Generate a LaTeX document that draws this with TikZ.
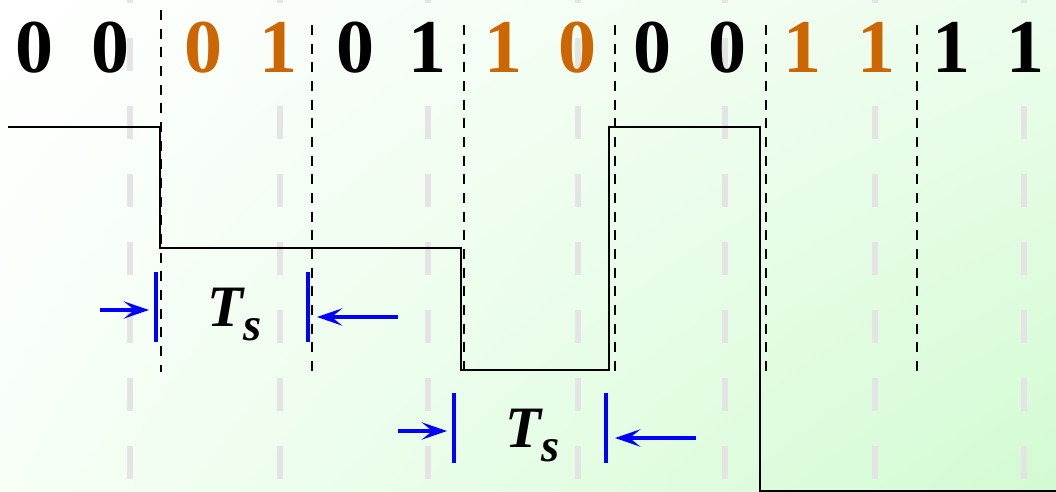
\documentclass[tikz,border=0pt]{standalone}
\usepackage{fontspec}
\setmainfont{Liberation Serif}
\usetikzlibrary{arrows.meta}
\usetikzlibrary{shadings}
\definecolor{bitorange}{RGB}{204,102,0}
\definecolor{tsblue}{RGB}{0,0,255}
\definecolor{gridgray}{RGB}{228,228,228}
\definecolor{bgcorner}{RGB}{210,251,210}
\definecolor{bgright}{RGB}{236,253,236}
\definecolor{bgleft}{RGB}{247,255,247}

\begin{document}
\begin{tikzpicture}[x=0.75pt,y=0.75pt,yscale=-1,xscale=1,
  bit/.style={anchor=base,inner sep=0pt,font=\fontsize{57}{60}\selectfont\bfseries},
  gridline/.style={color=gridgray,line width=4.5pt,dash pattern=on 24.75pt off 26.25pt},
  symline/.style={color=black,line width=1.8pt,dash pattern=on 7.5pt off 6.5pt},
  signal/.style={color=black,line width=2.1pt,line join=miter},
  tsbar/.style={color=tsblue,line width=3.6pt},
  tsarrow/.style={color=tsblue,line width=2.4pt,-{Stealth[length=19pt,width=13pt,inset=8pt]}},
  tslabel/.style={anchor=base west,inner sep=0pt}]
%uncomment if require: \path (0,492); %set diagram left start at 0, and has height of 492
\useasboundingbox (0,0) rectangle (1056,492);
\clip (0,0) rectangle (1056,492);

%Background
\shade[upper left=white,upper right=bgright,lower left=bgleft,lower right=bgcorner] (0,0) rectangle (1056,492);

%Grey Lines
\draw [gridline] (130,-30) -- (130,492) ;
\draw [gridline] (280,-30) -- (280,492) ;
\draw [gridline] (428,-30) -- (428,492) ;
\draw [gridline] (578,-30) -- (578,492) ;
\draw [gridline] (725,-30) -- (725,492) ;
\draw [gridline] (875,-30) -- (875,492) ;
\draw [gridline] (1024,-30) -- (1024,492) ;

%Symbol Borders
\draw [symline] (161,10) -- (161,372) ;
\draw [symline] (312,25) -- (312,372) ;
\draw [symline] (464,25) -- (464,372) ;
\draw [symline] (615,25) -- (615,372) ;
\draw [symline] (766,25) -- (766,372) ;
\draw [symline] (917,25) -- (917,372) ;

%Signal
\draw [signal] (8,127) -- (160,127) -- (160,248) -- (461,248) -- (461,370) -- (609,370) -- (609,127) -- (760,127) -- (760,491) -- (1060,491) ;

% Text Node
\node [bit] (b1) at (35,73) {0};
\node [bit] (b2) at (110,73) {0};
\node [bit,color=bitorange] (b3) at (203,73) {0};
\node [bit,color=bitorange] (b4) at (278,73) {1};
\node [bit] (b5) at (355,73) {0};
\node [bit] (b6) at (427,73) {1};
\node [bit,color=bitorange] (b7) at (503,73) {1};
\node [bit,color=bitorange] (b8) at (577,73) {0};
\node [bit] (b9) at (652,73) {0};
\node [bit] (b10) at (727,73) {0};
\node [bit,color=bitorange] (b11) at (802,73) {1};
\node [bit,color=bitorange] (b12) at (876,73) {1};
\node [bit] (b13) at (951,73) {1};
\node [bit] (b14) at (1025,73) {1};

%Period Marks
\draw [tsbar] (156,272) -- (156,342) ;
\draw [tsbar] (308,272) -- (308,342) ;
\draw [tsbar] (454,393) -- (454,463) ;
\draw [tsbar] (606,393) -- (606,463) ;

\coordinate (inA) at (100,310);
\coordinate (tipA) at (149,310);
\coordinate (inB) at (398,317);
\coordinate (tipB) at (317,317);
\coordinate (inC) at (398,431);
\coordinate (tipC) at (447,431);
\coordinate (inD) at (696,438);
\coordinate (tipD) at (615,438);
\draw [tsarrow] (inA) -- (tipA) ;
\draw [tsarrow] (inB) -- (tipB) ;
\draw [tsarrow] (inC) -- (tipC) ;
\draw [tsarrow] (inD) -- (tipD) ;

% Text Node
\node [tslabel] (tsA) at (207,326) {\fontsize{44}{46}\selectfont\bfseries\itshape T\raisebox{-10.5pt}{\fontsize{35}{38}\selectfont s}};
\node [tslabel] (tsB) at (505,447) {\fontsize{44}{46}\selectfont\bfseries\itshape T\raisebox{-10.5pt}{\fontsize{35}{38}\selectfont s}};

\end{tikzpicture}
\end{document}
